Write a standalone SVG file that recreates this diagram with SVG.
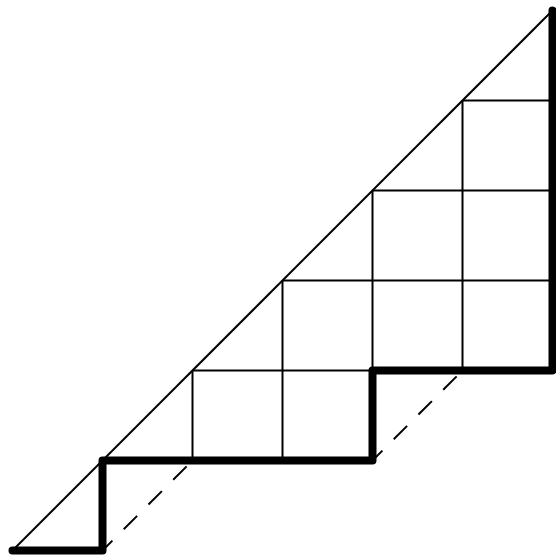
<svg xmlns="http://www.w3.org/2000/svg" width="556" height="555" viewBox="0 0 556 555">
<style>
.thin{stroke:#000;stroke-width:2;fill:none}
.thick{stroke:#000;stroke-width:8;fill:none;stroke-linejoin:round;stroke-linecap:round}
.dash{stroke:#000;stroke-width:2;fill:none;stroke-dasharray:19 16;stroke-dashoffset:5}
</style>
<rect width="556" height="555" fill="#fff"/>
<g id="grid">
<line class="thin" x1="12.5" y1="550.5" x2="552.5" y2="10.5"/>
<line class="thin" x1="192.5" y1="460.5" x2="192.5" y2="370.5"/>
<line class="thin" x1="282.5" y1="460.5" x2="282.5" y2="280.5"/>
<line class="thin" x1="372.5" y1="370.5" x2="372.5" y2="190.5"/>
<line class="thin" x1="462.5" y1="370.5" x2="462.5" y2="100.5"/>
<line class="thin" x1="192.5" y1="370.5" x2="372.5" y2="370.5"/>
<line class="thin" x1="282.5" y1="280.5" x2="552.5" y2="280.5"/>
<line class="thin" x1="372.5" y1="190.5" x2="552.5" y2="190.5"/>
<line class="thin" x1="462.5" y1="100.5" x2="552.5" y2="100.5"/>
</g>
<g id="connectors">
<line class="dash" x1="102.5" y1="550.5" x2="192.5" y2="460.5"/>
<line class="dash" x1="372.5" y1="460.5" x2="462.5" y2="370.5"/>
<path class="thick" d="M12.5 550.5 H102.5 V460.5 H372.5 V370.5 H552.5 V10.5"/>
</g>
</svg>
